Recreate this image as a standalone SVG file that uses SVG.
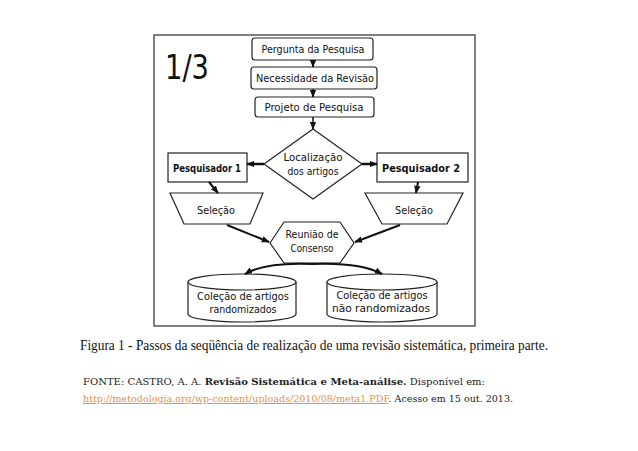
<svg xmlns="http://www.w3.org/2000/svg" width="638" height="451" viewBox="0 0 638 451">
<style>
.sh{fill:#fff;stroke:#222;stroke-width:1.2}
.t{font-family:"DejaVu Sans Condensed","DejaVu Sans",sans-serif;font-size:11px;fill:#111;text-anchor:middle}
.b{font-weight:bold;font-size:10px}
.c{stroke:#111;fill:none}
.ref{font-family:"DejaVu Serif","Liberation Serif",serif;font-size:9.5px;fill:#222}
</style>
<defs>
<marker id="ah" viewBox="0 0 10 10" refX="9" refY="5" markerWidth="8" markerHeight="8" orient="auto" markerUnits="userSpaceOnUse"><path d="M0,1L10,5L0,9z" fill="#111"/></marker>
</defs>
<rect width="638" height="451" fill="#fff"/>
<rect x="154" y="35" width="321" height="291" fill="none" stroke="#555" stroke-width="1.5"/>
<text x="165" y="79" font-family="DejaVu Sans Condensed, DejaVu Sans, sans-serif" font-size="33" fill="#111" textLength="44" lengthAdjust="spacingAndGlyphs">1/3</text>
<g id="n1"><rect class="sh" x="252" y="38" width="121" height="22" rx="3"/><text class="t" x="313" y="53" textLength="103" lengthAdjust="spacingAndGlyphs">Pergunta da Pesquisa</text></g>
<g id="n2"><rect class="sh" x="251" y="67" width="126" height="22" rx="3"/><text class="t" x="315" y="82" textLength="118" lengthAdjust="spacingAndGlyphs">Necessidade da Revisão</text></g>
<g id="n3"><rect class="sh" x="255" y="97" width="119" height="20" rx="3"/><text class="t" x="314" y="111" textLength="99" lengthAdjust="spacingAndGlyphs">Projeto de Pesquisa</text></g>
<g id="n4"><path class="sh" d="M313,129L362,164L313,199L264,164z"/><text class="t" x="313" y="161" textLength="59" lengthAdjust="spacingAndGlyphs">Localização</text><text class="t" x="313" y="175" textLength="51" lengthAdjust="spacingAndGlyphs">dos artigos</text></g>
<g id="n5"><rect class="sh" x="168" y="153" width="79" height="29"/><text class="t b" x="207" y="172" textLength="68" lengthAdjust="spacingAndGlyphs">Pesquisador 1</text></g>
<g id="n6"><rect class="sh" x="377" y="153" width="91" height="29"/><text class="t b" x="421" y="172" textLength="78" lengthAdjust="spacingAndGlyphs">Pesquisador 2</text></g>
<g id="n7"><path class="sh" d="M170,193L263,193L250,224L184,224z"/><text class="t" x="216" y="214" textLength="38" lengthAdjust="spacingAndGlyphs">Seleção</text></g>
<g id="n8"><path class="sh" d="M365,193L463,193L447,224L382,224z"/><text class="t" x="414" y="214" textLength="38" lengthAdjust="spacingAndGlyphs">Seleção</text></g>
<g id="n9"><path class="sh" d="M270,243L284,222L340,222L354,243L340,263L284,263z"/><text class="t" x="312" y="238" textLength="53" lengthAdjust="spacingAndGlyphs">Reunião de</text><text class="t" x="312" y="252" textLength="43" lengthAdjust="spacingAndGlyphs">Consenso</text></g>
<g id="n10"><path class="sh" d="M188,282A54,8 0 0 1 296,282L296,314A54,8 0 0 1 188,314z"/><path class="sh" fill="none" d="M188,282A54,8 0 0 0 296,282"/><text class="t" x="243" y="300" textLength="92" lengthAdjust="spacingAndGlyphs">Coleção de artigos</text><text class="t" x="243" y="313" textLength="67" lengthAdjust="spacingAndGlyphs">randomizados</text></g>
<g id="n11"><path class="sh" d="M327,282A55,8 0 0 1 437,282L437,314A55,8 0 0 1 327,314z"/><path class="sh" fill="none" d="M327,282A55,8 0 0 0 437,282"/><text class="t" x="382" y="299" textLength="91" lengthAdjust="spacingAndGlyphs">Coleção de artigos</text><text class="t" x="381" y="312" textLength="98" lengthAdjust="spacingAndGlyphs">não randomizados</text></g>
<g id="connectors">
<line class="c" stroke-width="1.5" x1="313" y1="60" x2="313" y2="67" marker-end="url(#ah)"/>
<line class="c" stroke-width="1.5" x1="313" y1="89" x2="313" y2="97" marker-end="url(#ah)"/>
<line class="c" stroke-width="1.5" x1="313" y1="117" x2="313" y2="129" marker-end="url(#ah)"/>
<line class="c" stroke-width="2.5" x1="264" y1="164" x2="247" y2="164" marker-end="url(#ah)"/>
<line class="c" stroke-width="2.5" x1="362" y1="164" x2="377" y2="164" marker-end="url(#ah)"/>
<line class="c" stroke-width="2" x1="209" y1="182" x2="218" y2="193" marker-end="url(#ah)"/>
<line class="c" stroke-width="2" x1="418" y1="182" x2="416" y2="193" marker-end="url(#ah)"/>
<line class="c" stroke-width="2" x1="227" y1="225" x2="269" y2="242" marker-end="url(#ah)"/>
<line class="c" stroke-width="2" x1="400" y1="225" x2="355" y2="242" marker-end="url(#ah)"/>
<path class="c" stroke-width="2" d="M312,264Q265,262 245,274" marker-end="url(#ah)"/>
<path class="c" stroke-width="2" d="M312,264Q360,262 382,274" marker-end="url(#ah)"/>
</g>
<text x="80" y="350" font-family="Liberation Serif, serif" font-size="15" fill="#111" textLength="468" lengthAdjust="spacingAndGlyphs">Figura 1 -  Passos da seqüência de realização de uma revisão sistemática, primeira parte.</text>
<text class="ref" x="83" y="385" textLength="402" lengthAdjust="spacingAndGlyphs">FONTE: CASTRO, A. A. <tspan font-weight="bold">Revisão Sistemática e Meta-análise.</tspan> Disponível em:</text>
<text class="ref" x="83" y="402" textLength="430" lengthAdjust="spacingAndGlyphs"><tspan fill="#e8913a" text-decoration="underline">http://metodologia.org/wp-content/uploads/2010/08/meta1.PDF</tspan>. Acesso em 15 out. 2013.</text>
</svg>
